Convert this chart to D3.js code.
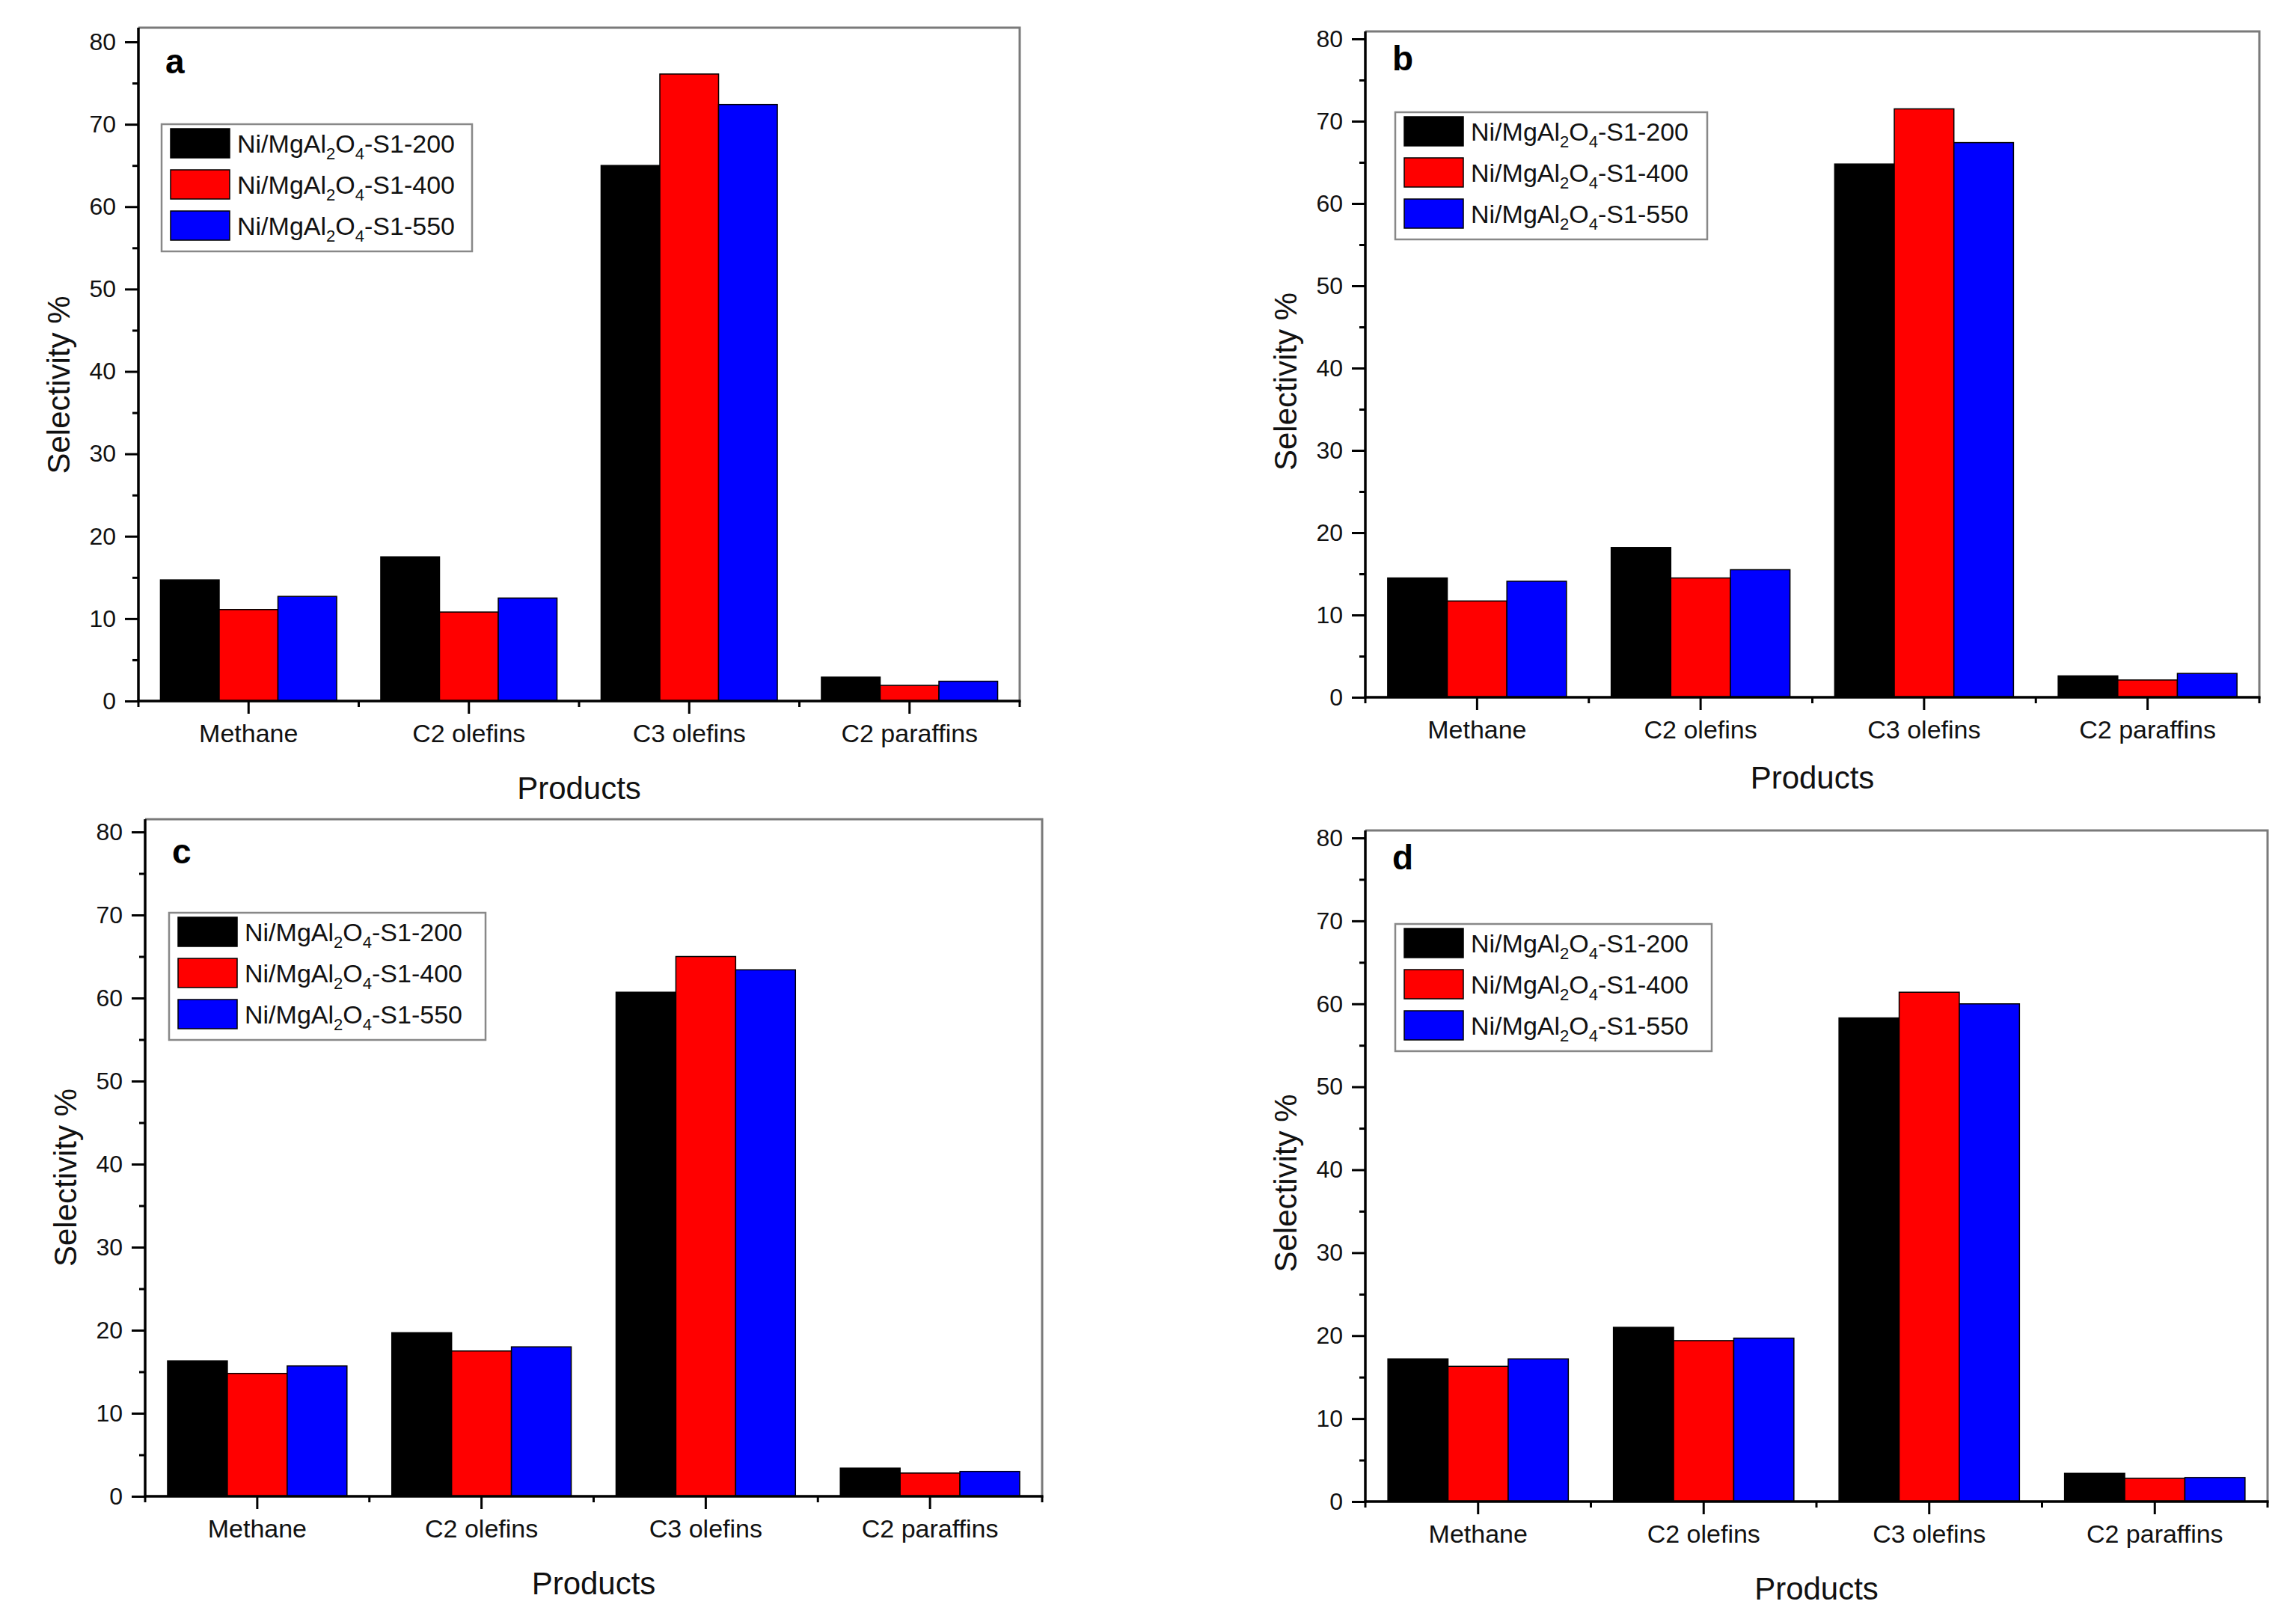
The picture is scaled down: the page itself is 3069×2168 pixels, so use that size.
<!DOCTYPE html>
<html>
<head>
<meta charset="utf-8">
<script src="https://cdn.jsdelivr.net/npm/d3@7"></script>
<style>
  html, body { margin: 0; padding: 0; background: #fff; }
  svg { display: block; }
  text { font-family: Arial, "Liberation Sans", sans-serif; }
</style>
</head>
<body>
<script>
// ---------------- data ----------------
const categories = ["Methane", "C2 olefins", "C3 olefins", "C2 paraffins"];
const seriesNames = ["S1-200", "S1-400", "S1-550"];
const seriesColors = ["#000000", "#ff0000", "#0000ff"];
const yTicks = [0, 10, 20, 30, 40, 50, 60, 70, 80];
const yMinorTicks = [5, 15, 25, 35, 45, 55, 65, 75];
const panelLetters = ["a", "b", "c", "d"];

// panel a
const a200 = [14.7, 17.5, 65.0, 2.9];
const a400 = [11.1, 10.8, 76.1, 1.9];
const a550 = [12.7, 12.5, 72.4, 2.4];
// panel b
const b200 = [14.5, 18.2, 64.8, 2.6];
const b400 = [11.7, 14.5, 71.5, 2.1];
const b550 = [14.1, 15.5, 67.4, 2.9];
// panel c
const c200 = [16.3, 19.7, 60.7, 3.4];
const c400 = [14.8, 17.5, 65.0, 2.8];
const c550 = [15.7, 18.0, 63.4, 3.0];
// panel d
const d200 = [17.2, 21.0, 58.3, 3.4];
const d400 = [16.3, 19.4, 61.4, 2.8];
const d550 = [17.2, 19.7, 60.0, 2.9];

const panelValues = [
  [a200, a400, a550],
  [b200, b400, b550],
  [c200, c400, c550],
  [d200, d400, d550]
];

// ---------------- layout ----------------
const W = 3069, H = 2168;
const layout = [
  { left: 185,  right: 1363, top: 37,   y80: 56,   y0: 937,  lgX: 216,  lgY: 166,  lgW: 415, prodY: 131 },
  { left: 1825, right: 3020, top: 42,   y80: 52,   y0: 932,  lgX: 1865, lgY: 150,  lgW: 417, prodY: 122 },
  { left: 194,  right: 1393, top: 1095, y80: 1112, y0: 2000, lgX: 226,  lgY: 1220, lgW: 423, prodY: 131 },
  { left: 1825, right: 3031, top: 1110, y80: 1120, y0: 2007, lgX: 1865, lgY: 1235, lgW: 423, prodY: 131 }
];

const svg = d3.select("body").append("svg")
  .attr("width", W).attr("height", H)
  .attr("viewBox", `0 0 ${W} ${H}`);
svg.append("rect").attr("width", W).attr("height", H).attr("fill", "#fff");

layout.forEach((L, pi) => {
  const g = svg.append("g");
  const x0 = d3.scaleBand().domain(categories).range([L.left, L.right]).padding(0);
  const bw = x0.bandwidth();
  const x1 = d3.scaleBand().domain(seriesNames).range([bw * 0.1, bw * 0.9]).padding(0);
  const y = d3.scaleLinear().domain([0, 80]).range([L.y0, L.y80]);

  // frame (top & right)
  g.append("path")
    .attr("d", `M${L.left},${L.top}H${L.right}V${L.y0}`)
    .attr("fill", "none").attr("stroke", "#7a7a7a").attr("stroke-width", 3);

  // bars
  seriesNames.forEach((s, si) => {
    const vals = panelValues[pi][si];
    g.append("g").selectAll("rect")
      .data(categories.map((c, ci) => ({ c, v: vals[ci] })))
      .join("rect")
      .attr("x", d => x0(d.c) + x1(s))
      .attr("width", x1.bandwidth())
      .attr("y", d => y(d.v))
      .attr("height", d => y(0) - y(d.v))
      .attr("fill", seriesColors[si])
      .attr("stroke", "#000").attr("stroke-width", 1.5);
  });

  // y axis
  const yAxis = d3.axisLeft(y).tickValues(yTicks).tickSize(18).tickPadding(12)
    .tickFormat(d3.format("d"));
  const ya = g.append("g").attr("transform", `translate(${L.left},0)`).call(yAxis);
  ya.select(".domain").remove();
  ya.selectAll(".tick line").attr("stroke", "#000").attr("stroke-width", 3);
  ya.selectAll(".tick text").attr("font-size", 32).attr("fill", "#111")
    .attr("font-family", "Arial, 'Liberation Sans', sans-serif");
  const yMinor = d3.axisLeft(y).tickValues(yMinorTicks).tickSize(8).tickFormat("");
  const ym = g.append("g").attr("transform", `translate(${L.left},0)`).call(yMinor);
  ym.select(".domain").remove();
  ym.selectAll(".tick line").attr("stroke", "#000").attr("stroke-width", 3);
  g.append("line")
    .attr("x1", L.left).attr("x2", L.left).attr("y1", L.top).attr("y2", L.y0 + 1.5)
    .attr("stroke", "#000").attr("stroke-width", 3.5);

  // x axis
  const xAxis = d3.axisBottom(x0).tickSize(17).tickPadding(14);
  const xa = g.append("g").attr("transform", `translate(0,${L.y0})`).call(xAxis);
  xa.select(".domain").remove();
  xa.selectAll(".tick line").attr("stroke", "#000").attr("stroke-width", 3);
  xa.selectAll(".tick text").attr("font-size", 34).attr("fill", "#111")
    .attr("font-family", "Arial, 'Liberation Sans', sans-serif");
  const bounds = d3.range(categories.length + 1).map(i => L.left + i * bw);
  g.append("g").selectAll("line").data(bounds).join("line")
    .attr("x1", d => d).attr("x2", d => d)
    .attr("y1", L.y0).attr("y2", L.y0 + 8)
    .attr("stroke", "#000").attr("stroke-width", 3);
  g.append("line")
    .attr("x1", L.left - 1.5).attr("x2", L.right + 1.5).attr("y1", L.y0).attr("y2", L.y0)
    .attr("stroke", "#000").attr("stroke-width", 3.5);

  // axis titles
  g.append("text")
    .attr("x", (L.left + L.right) / 2).attr("y", L.y0 + L.prodY)
    .attr("text-anchor", "middle").attr("font-size", 42).attr("fill", "#111")
    .text("Products");
  const ymid = (L.y0 + L.y80) / 2 + 18;
  g.append("text")
    .attr("transform", `translate(${L.left - 92},${ymid}) rotate(-90)`)
    .attr("text-anchor", "middle").attr("font-size", 42).attr("fill", "#111")
    .text("Selectivity %");

  // panel letter
  g.append("text")
    .attr("x", L.left + 36).attr("y", L.y80 + 42)
    .attr("font-size", 46).attr("font-weight", "bold").attr("fill", "#000")
    .text(panelLetters[pi]);

  // legend
  const lg = g.append("g").attr("transform", `translate(${L.lgX},${L.lgY})`);
  lg.append("rect").attr("width", L.lgW).attr("height", 170)
    .attr("fill", "#fff").attr("stroke", "#888").attr("stroke-width", 2.5);
  seriesNames.forEach((s, si) => {
    const ry = 6 + si * 55;
    lg.append("rect").attr("x", 12).attr("y", ry).attr("width", 79).attr("height", 39)
      .attr("fill", seriesColors[si]).attr("stroke", "#000").attr("stroke-width", 1.5);
    const t = lg.append("text").attr("x", 101).attr("y", ry + 32)
      .attr("font-size", 34).attr("fill", "#111");
    t.append("tspan").text("Ni/MgAl");
    t.append("tspan").attr("font-size", 22).attr("dy", 9).text("2");
    t.append("tspan").attr("dy", -9).text("O");
    t.append("tspan").attr("font-size", 22).attr("dy", 9).text("4");
    t.append("tspan").attr("dy", -9).text("-" + s);
  });
});
</script>
</body>
</html>
